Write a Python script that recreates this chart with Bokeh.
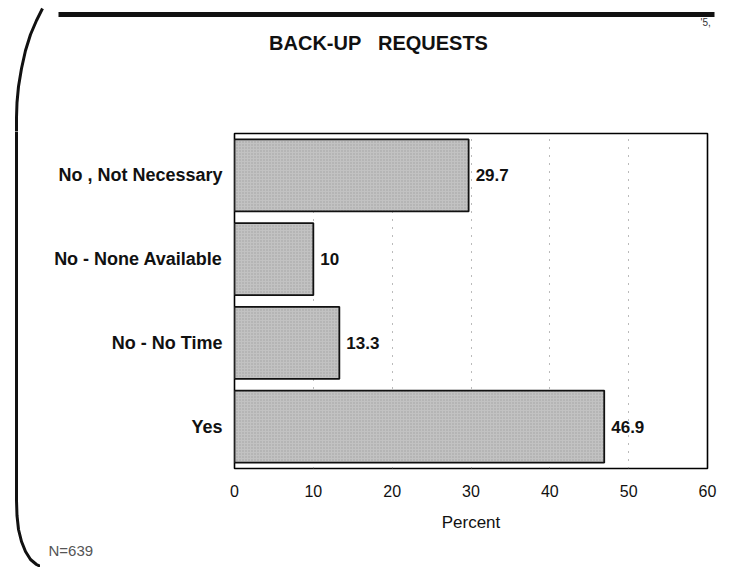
from bokeh.plotting import figure
from bokeh.models import (ColumnDataSource, FactorRange, Range1d, Title, FixedTicker)
from bokeh.layouts import column, row
from bokeh.core.properties import value
from bokeh.embed import file_html
from bokeh.resources import INLINE

# ---- data ----
categories = ["Yes", "No - No Time", "No - None Available", "No , Not Necessary"]
percents = [46.9, 13.3, 10.0, 29.7]
value_labels = ["46.9", "13.3", "10", "29.7"]
x_ticks = [0, 10, 20, 30, 40, 50, 60]
title_text = "BACK-UP\u00a0\u00a0\u00a0REQUESTS"
x_label = "Percent"
note_text = "N=639"
corner_text = "'5,"

FONT = "Liberation Sans"
INK = "#111111"

# ---- layout constants (page pixels) ----
TOTAL_W = 720
HEAD_H = 131
STRIP_W = 40
BODY_H = 436


def blank(width, height, x0, x1, y0, y1):
    f = figure(width=width, height=height, x_range=Range1d(x0, x1),
               y_range=Range1d(y1, y0), x_axis_type=None, y_axis_type=None,
               toolbar_location=None, output_backend="svg", min_border=0)
    f.outline_line_color = None
    f.background_fill_color = "white"
    f.border_fill_color = "white"
    try:
        f.frame_align = False
    except AttributeError:
        pass
    return f


# ---- header: scan frame top edge and title ----
head = blank(TOTAL_W, HEAD_H, 0, TOTAL_W, 0, HEAD_H)
head.line(x=[58, 714], y=[14, 14], line_width=5, line_color=INK)
head.line(x=[42, 36, 30, 25, 21, 18, 16.5, 16, 16],
          y=[8, 20, 34, 50, 68, 86, 102, 117, HEAD_H + 10],
          line_width=3, line_color=INK)
head.text(x=[378], y=[42], text=[title_text], text_align="center",
          text_baseline="middle", text_font=value(FONT), text_font_style="bold",
          text_font_size="20px", text_color=INK)
head.text(x=[700], y=[22], text=[corner_text], text_align="left",
          text_baseline="middle", text_font=value(FONT),
          text_font_size="10px", text_color="#333333")

# ---- left strip: scan frame left edge ----
strip = blank(STRIP_W, BODY_H, 0, STRIP_W, HEAD_H, HEAD_H + BODY_H)
strip.line(x=[16, 16, 16.5, 18, 21, 25, 30, 36, 40],
           y=[HEAD_H - 10, 500, 515, 529, 541, 551, 559, 564, 566],
           line_width=3, line_color=INK)

# ---- chart ----
src = ColumnDataSource(dict(cat=categories, val=percents, lbl=value_labels))

p = figure(width=TOTAL_W - STRIP_W, height=BODY_H, output_backend="svg",
           toolbar_location=None,
           y_range=FactorRange(factors=categories, range_padding=0),
           x_range=Range1d(0, 60),
           min_border_left=194, min_border_right=13,
           min_border_top=2, min_border_bottom=99)
try:
    p.frame_align = False
except AttributeError:
    pass
p.background_fill_color = "white"
p.border_fill_color = "white"
p.outline_line_color = "black"
p.outline_line_width = 1.6

p.hbar(y="cat", left=0, right="val", height=0.86, source=src,
       fill_color="#c2c2c2", line_color=INK, line_width=1.8,
       hatch_pattern="dot", hatch_color="#888888", hatch_scale=3, hatch_alpha=0.6)

p.text(x="val", y="cat", text="lbl", source=src, x_offset=7,
       text_baseline="middle", text_align="left",
       text_font=value(FONT), text_font_style="bold", text_font_size="17px",
       text_color=INK)

p.xaxis.ticker = FixedTicker(ticks=x_ticks)
p.xaxis.axis_label = x_label
p.xaxis.axis_label_text_font = FONT
p.xaxis.axis_label_text_font_style = "normal"
p.xaxis.axis_label_text_font_size = "17px"
p.xaxis.axis_label_text_color = INK
p.xaxis.axis_label_standoff = 13
p.xaxis.major_label_text_font = FONT
p.xaxis.major_label_text_font_size = "16px"
p.xaxis.major_label_text_color = INK
p.xaxis.major_label_standoff = 10
p.xaxis.axis_line_color = None
p.xaxis.major_tick_line_color = None
p.xaxis.minor_tick_line_color = None

p.yaxis.major_label_text_font = FONT
p.yaxis.major_label_text_font_size = "18px"
p.yaxis.major_label_text_font_style = "bold"
p.yaxis.major_label_text_color = INK
p.yaxis.major_label_standoff = 6
p.yaxis.axis_line_color = None
p.yaxis.major_tick_line_color = None
p.yaxis.minor_tick_line_color = None

p.ygrid.grid_line_color = None
p.xgrid.grid_line_color = "#777777"
p.xgrid.grid_line_dash = "1 7"
p.xgrid.grid_line_width = 1

note = Title(text=note_text, align="left", offset=-186, vertical_align="top",
             text_font=FONT, text_font_size="15px", text_font_style="normal",
             text_color="#555555")
try:
    note.standoff = 14
except AttributeError:
    pass
p.add_layout(note, "below")

layout = column(head, row(strip, p, spacing=0), spacing=0)

open("out.html", "w").write(file_html(layout, INLINE))
